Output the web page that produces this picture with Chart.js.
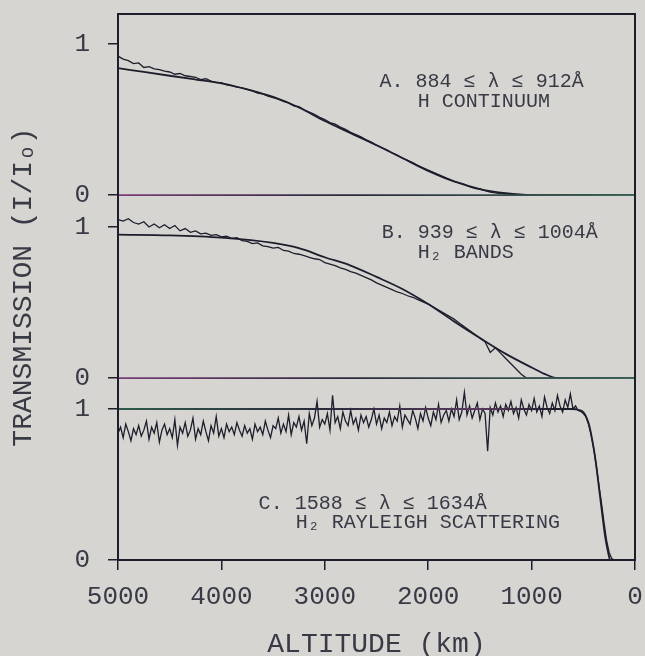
<!DOCTYPE html>
<html>
<head>
<meta charset="utf-8">
<script src="https://cdn.jsdelivr.net/npm/chart.js@4.4.1/dist/chart.umd.min.js"></script>
<style>
  html, body { margin: 0; padding: 0; background: #d6d5d1; }
  #wrap { width: 645px; height: 656px; }
</style>
</head>
<body>
<div id="wrap"><canvas id="chart"></canvas></div>
<script>
// Altitude grids (km) for the measured curves
const ALT_50 = [
  5000, 4950, 4900, 4850, 4800, 4750, 4700, 4650, 4600, 4550,
  4500, 4450, 4400, 4350, 4300, 4250, 4200, 4150, 4100, 4050,
  4000, 3950, 3900, 3850, 3800, 3750, 3700, 3650, 3600, 3550,
  3500, 3450, 3400, 3350, 3300, 3250, 3200, 3150, 3100, 3050,
  3000, 2950, 2900, 2850, 2800, 2750, 2700, 2650, 2600, 2550,
  2500, 2450, 2400, 2350, 2300, 2250, 2200, 2150, 2100, 2050,
  2000, 1950, 1900, 1850, 1800, 1750, 1700, 1650, 1600, 1550,
  1500, 1450, 1400, 1350, 1300, 1250, 1200, 1150, 1100, 1050,
  1000, 950, 900, 850, 800, 750, 700, 650, 600, 550,
  500, 450, 400, 350, 300, 250, 200, 150, 100, 50,
  0
];

const ALT_25 = [
  5000, 4975, 4950, 4925, 4900, 4875, 4850, 4825,
  4800, 4775, 4750, 4725, 4700, 4675, 4650, 4625,
  4600, 4575, 4550, 4525, 4500, 4475, 4450, 4425,
  4400, 4375, 4350, 4325, 4300, 4275, 4250, 4225,
  4200, 4175, 4150, 4125, 4100, 4075, 4050, 4025,
  4000, 3975, 3950, 3925, 3900, 3875, 3850, 3825,
  3800, 3775, 3750, 3725, 3700, 3675, 3650, 3625,
  3600, 3575, 3550, 3525, 3500, 3475, 3450, 3425,
  3400, 3375, 3350, 3325, 3300, 3275, 3250, 3225,
  3200, 3175, 3150, 3125, 3100, 3075, 3050, 3025,
  3000, 2975, 2950, 2925, 2900, 2875, 2850, 2825,
  2800, 2775, 2750, 2725, 2700, 2675, 2650, 2625,
  2600, 2575, 2550, 2525, 2500, 2475, 2450, 2425,
  2400, 2375, 2350, 2325, 2300, 2275, 2250, 2225,
  2200, 2175, 2150, 2125, 2100, 2075, 2050, 2025,
  2000, 1975, 1950, 1925, 1900, 1875, 1850, 1825,
  1800, 1775, 1750, 1725, 1700, 1675, 1650, 1625,
  1600, 1575, 1550, 1525, 1500, 1475, 1450, 1425,
  1400, 1375, 1350, 1325, 1300, 1275, 1250, 1225,
  1200, 1175, 1150, 1125, 1100, 1075, 1050, 1025,
  1000, 975, 950, 925, 900, 875, 850, 825,
  800, 775, 750, 725, 700, 675, 650, 625,
  600, 575, 550, 525, 500, 475, 450, 425,
  400, 375, 350, 325, 300, 275, 250, 225,
  200, 175, 150, 125, 100, 75, 50, 25,
  0
];

// Panel A: 884-912 A, H continuum
const A_DATA = [
  0.92, 0.90, 0.89, 0.87, 0.875, 0.845, 0.85, 0.835, 0.83, 0.82,
  0.815, 0.80, 0.805, 0.79, 0.785, 0.78, 0.765, 0.77, 0.755, 0.745,
  0.745, 0.73, 0.725, 0.715, 0.71, 0.70, 0.69, 0.675, 0.67, 0.655,
  0.645, 0.635, 0.62, 0.61, 0.59, 0.585, 0.565, 0.55, 0.535, 0.515,
  0.50, 0.48, 0.47, 0.45, 0.435, 0.415, 0.40, 0.385, 0.365, 0.35,
  0.33, 0.315, 0.30, 0.28, 0.265, 0.245, 0.23, 0.215, 0.195, 0.18,
  0.165, 0.15, 0.135, 0.12, 0.105, 0.09, 0.08, 0.07, 0.055, 0.045,
  0.04, 0.03, 0.02, 0.015, 0.01, 0.008, 0.004, 0.003, 0.001, 0,
  0, 0, 0, 0, 0, 0, 0, 0, 0, 0,
  0, 0, 0, 0, 0, 0, 0, 0, 0, 0,
  0
];
const A_MODEL_ALT = [5000, 4750, 4500, 4250, 4000, 3750, 3500, 3250, 3000, 2750, 2500, 2250, 2000, 1750, 1500, 1250, 1000, 500, 0];
const A_MODEL = [0.84, 0.815, 0.79, 0.765, 0.74, 0.70, 0.65, 0.58, 0.49, 0.41, 0.33, 0.245, 0.16, 0.09, 0.04, 0.012, 0, 0, 0];

// Panel B: 939-1004 A, H2 bands
const B_DATA = [
  1.05, 1.04, 1.055, 1.03, 1.02, 1.035, 1.00, 1.02, 0.995, 1.015,
  0.99, 1.01, 0.975, 0.99, 0.965, 0.975, 0.955, 0.96, 0.945, 0.95,
  0.935, 0.94, 0.925, 0.93, 0.91, 0.905, 0.89, 0.895, 0.875, 0.87,
  0.86, 0.865, 0.845, 0.84, 0.825, 0.82, 0.81, 0.80, 0.79, 0.785,
  0.765, 0.755, 0.745, 0.73, 0.72, 0.705, 0.695, 0.68, 0.665, 0.65,
  0.63, 0.615, 0.60, 0.585, 0.57, 0.56, 0.545, 0.535, 0.52, 0.505,
  0.49, 0.47, 0.45, 0.43, 0.41, 0.39, 0.365, 0.34, 0.315, 0.29,
  0.265, 0.24, 0.17, 0.20, 0.165, 0.13, 0.095, 0.06, 0.025, 0,
  0, 0, 0, 0, 0, 0, 0, 0, 0, 0,
  0, 0, 0, 0, 0, 0, 0, 0, 0, 0,
  0
];
const B_MODEL_ALT = [5000, 4500, 4000, 3500, 3250, 3000, 2750, 2500, 2250, 2000, 1750, 1500, 1250, 1000, 850, 750, 0];
const B_MODEL = [0.95, 0.945, 0.93, 0.895, 0.86, 0.80, 0.745, 0.67, 0.59, 0.49, 0.375, 0.265, 0.16, 0.07, 0.02, 0, 0];

// Panel C: 1588-1634 A, H2 Rayleigh scattering
const C_DATA = [
  0.84, 0.88, 0.81, 0.90, 0.85, 0.79, 0.87, 0.83,
  0.89, 0.82, 0.86, 0.92, 0.80, 0.88, 0.84, 0.91,
  0.78, 0.86, 0.90, 0.83, 0.87, 0.81, 0.93, 0.76,
  0.88, 0.84, 0.91, 0.82, 0.86, 0.94, 0.80, 0.87,
  0.83, 0.92, 0.85, 0.79, 0.89, 0.84, 0.95, 0.82,
  0.87, 0.81, 0.90, 0.85, 0.88, 0.83, 0.91, 0.86,
  0.82, 0.89, 0.84, 0.87, 0.80, 0.90, 0.85, 0.88,
  0.83, 0.92, 0.86, 0.81, 0.89, 0.87, 0.94, 0.84,
  0.90, 0.85, 0.96, 0.83, 0.91, 0.88, 0.95, 0.86,
  0.92, 0.77, 0.97, 0.89, 0.94, 1.05, 0.88, 0.93,
  0.90, 0.97, 0.86, 1.09, 0.91, 0.95, 0.87, 0.98,
  0.92, 0.89, 0.99, 0.90, 0.94, 0.86, 0.96, 0.91,
  0.95, 0.88, 0.93, 1.00, 0.90, 0.96, 0.87, 0.94,
  0.91, 0.98, 0.89, 0.95, 0.92, 1.02, 0.88, 0.96,
  0.93, 0.90, 0.99, 0.94, 0.87, 0.97, 0.92, 1.01,
  0.94, 0.89, 0.98, 0.93, 1.03, 0.91, 0.96, 0.99,
  0.92, 1.00, 0.95, 1.06, 0.93, 0.98, 1.11, 0.96,
  1.02, 0.94, 0.99, 1.04, 0.93, 1.00, 0.97, 0.72,
  1.01, 0.96, 1.04, 0.98, 1.02, 0.95, 1.03, 0.99,
  1.05, 0.97, 1.01, 0.94, 1.06, 1.00, 0.96, 1.03,
  0.99, 1.07, 0.98, 1.02, 0.95, 1.08, 1.01, 0.97,
  1.04, 0.99, 1.09, 1.02, 0.98, 1.06, 1.01, 1.10,
  1.00, 1.02, 0.99, 0.985, 0.97, 0.95, 0.90, 0.83,
  0.74, 0.63, 0.50, 0.38, 0.25, 0.13, 0.05, 0.01,
  0, 0, 0, 0, 0, 0, 0, 0,
  0
];
const C_MODEL_ALT = [5000, 600, 550, 500, 470, 440, 415, 390, 370, 345, 320, 290, 260, 240, 0];
const C_MODEL = [1, 1, 0.995, 0.98, 0.945, 0.885, 0.80, 0.70, 0.60, 0.46, 0.32, 0.16, 0.05, 0, 0];

// Zero reference lines of panels A and B
const BASE_ALT = [5000, 0];
const BASE_VAL = [0, 0];

const X_TICKS = [5000, 4000, 3000, 2000, 1000, 0];
const Y_TICK_LABELS = ['0', '1'];

// Panel notes
const NOTES_A = ['A. 884 \u2264 \u03bb \u2264 912\u00c5', 'H CONTINUUM'];
const NOTES_B = ['B. 939 \u2264 \u03bb \u2264 1004\u00c5', 'H\u2082 BANDS'];
const NOTES_C = ['C. 1588 \u2264 \u03bb \u2264 1634\u00c5', 'H\u2082 RAYLEIGH SCATTERING'];

// layout: vertical offset of each panel on the shared axis
const OFFSET = { A: 2.417, B: 1.205, C: 0 };
const Y_MAX = 3.616;

const INK = '#1d1d2c';
const TEXT = '#3a3a46';
const MONO = '"Liberation Mono", "DejaVu Sans Mono", monospace';

function pts(alts, vals, off) {
  return alts.map((a, i) => ({ x: a, y: vals[i] + off }));
}

function baseGradient(context) {
  const chart = context.chart;
  const area = chart.chartArea;
  if (!area) return INK;
  const g = chart.ctx.createLinearGradient(area.left, 0, area.right, 0);
  g.addColorStop(0, '#7a3c78');
  g.addColorStop(0.45, '#2a2a3a');
  g.addColorStop(1, '#3c6a5a');
  return g;
}

function oneGradient(context) {
  const chart = context.chart;
  const area = chart.chartArea;
  if (!area) return INK;
  const g = chart.ctx.createLinearGradient(area.left, 0, area.right, 0);
  g.addColorStop(0, '#2f5a4a');
  g.addColorStop(0.4, '#2a2a3a');
  g.addColorStop(0.7, '#5a3a60');
  g.addColorStop(0.85, INK);
  g.addColorStop(1, INK);
  return g;
}

const dataLine = { borderColor: INK, borderWidth: 1.3, pointRadius: 0, tension: 0 };
const modelLine = { borderColor: INK, borderWidth: 1.8, pointRadius: 0, cubicInterpolationMode: 'monotone' };

const datasets = [
  { ...modelLine, borderColor: baseGradient, data: pts(BASE_ALT, BASE_VAL, OFFSET.A) },
  { ...modelLine, borderColor: baseGradient, data: pts(BASE_ALT, BASE_VAL, OFFSET.B) },
  { ...modelLine, data: pts(A_MODEL_ALT, A_MODEL, OFFSET.A) },
  { ...dataLine, data: pts(ALT_50, A_DATA, OFFSET.A) },
  { ...modelLine, data: pts(B_MODEL_ALT, B_MODEL, OFFSET.B) },
  { ...dataLine, data: pts(ALT_50, B_DATA, OFFSET.B) },
  { ...modelLine, borderColor: oneGradient, data: pts(C_MODEL_ALT, C_MODEL, OFFSET.C) },
  { ...dataLine, data: pts(ALT_25, C_DATA, OFFSET.C) }
];

// frame around the plot area
const framePlugin = {
  id: 'frame',
  afterDatasetsDraw(chart) {
    const { ctx, chartArea: a } = chart;
    ctx.save();
    ctx.strokeStyle = INK;
    ctx.lineWidth = 2;
    ctx.strokeRect(a.left, a.top, a.right - a.left, a.bottom - a.top);
    ctx.restore();
  }
};

// panel notes, anchored in data space
const NOTE_ANCHORS = [
  { lines: NOTES_A, alt: [2470, 2100], val: [0.75, 0.62], off: OFFSET.A },
  { lines: NOTES_B, alt: [2450, 2100], val: [0.96, 0.83], off: OFFSET.B },
  { lines: NOTES_C, alt: [3640, 3280], val: [0.37, 0.245], off: OFFSET.C }
];
const notesPlugin = {
  id: 'notes',
  afterDatasetsDraw(chart) {
    const { ctx, scales: { x, y } } = chart;
    ctx.save();
    ctx.fillStyle = TEXT;
    ctx.font = '20px ' + MONO;
    ctx.textAlign = 'left';
    ctx.textBaseline = 'middle';
    NOTE_ANCHORS.forEach(n => {
      n.lines.forEach((t, i) => {
        ctx.fillText(t, x.getPixelForValue(n.alt[i]), y.getPixelForValue(n.val[i] + n.off));
      });
    });
    ctx.restore();
  }
};

new Chart(document.getElementById('chart'), {
  type: 'line',
  data: { datasets },
  options: {
    responsive: true,
    maintainAspectRatio: false,
    animation: false,
    layout: { padding: { top: 14, right: 10, left: 0, bottom: 0 } },
    plugins: { legend: { display: false }, tooltip: { enabled: false } },
    scales: {
      x: {
        type: 'linear',
        reverse: true,
        min: 0,
        max: 5000,
        afterBuildTicks: s => { s.ticks = X_TICKS.map(v => ({ value: v })); },
        afterFit: s => { s.height = 96; s.paddingLeft = 0; s.paddingRight = 0; },
        ticks: {
          autoSkip: false,
          maxRotation: 0,
          padding: 12,
          color: TEXT,
          font: { family: MONO, size: 26 },
          callback: v => String(v)
        },
        grid: { drawOnChartArea: false, drawTicks: true, tickLength: 10, color: INK, lineWidth: 1.5 },
        border: { display: false },
        title: {
          display: true,
          text: 'ALTITUDE (km)',
          color: TEXT,
          font: { family: MONO, size: 28, lineHeight: 0.8 },
          padding: { top: 0, bottom: 0 }
        }
      },
      y: {
        type: 'linear',
        min: 0,
        max: Y_MAX,
        afterBuildTicks: s => {
          s.ticks = [OFFSET.C, OFFSET.C + 1, OFFSET.B, OFFSET.B + 1, OFFSET.A, OFFSET.A + 1].map(v => ({ value: v }));
        },
        afterFit: s => { s.width = 118; s.paddingTop = 0; s.paddingBottom = 0; },
        ticks: {
          autoSkip: false,
          padding: 18,
          color: TEXT,
          font: { family: MONO, size: 26 },
          callback: (v, i) => Y_TICK_LABELS[i % 2]
        },
        grid: { drawOnChartArea: false, drawTicks: true, tickLength: 10, color: INK, lineWidth: 1.5 },
        border: { display: false },
        title: {
          display: true,
          text: 'TRANSMISSION (I/I\u2092)',
          color: TEXT,
          font: { family: MONO, size: 28, lineHeight: 1.0 },
          padding: { top: 10, bottom: 0 }
        }
      }
    }
  },
  plugins: [framePlugin, notesPlugin]
});
</script>
</body>
</html>
